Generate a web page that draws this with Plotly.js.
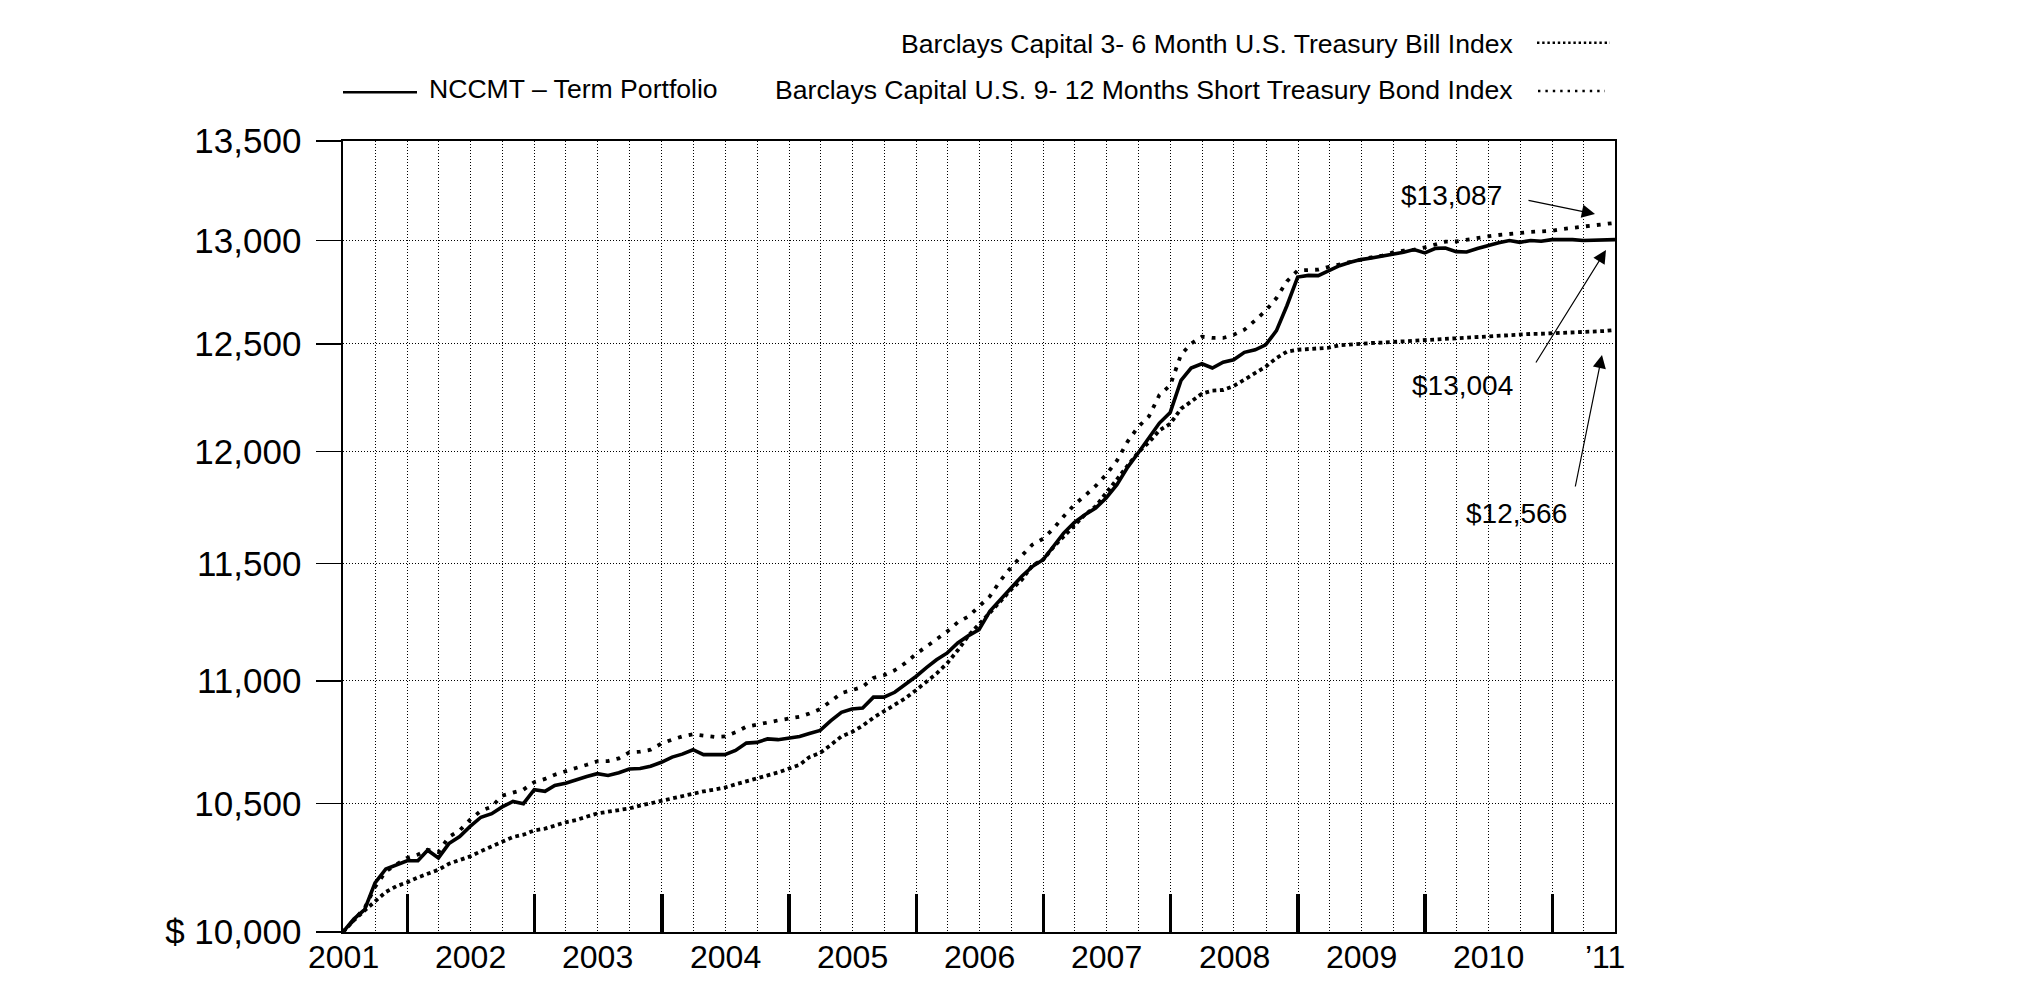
<!DOCTYPE html>
<html>
<head>
<meta charset="utf-8">
<script src="https://cdn.plot.ly/plotly-3.0.1.min.js"></script>
<style>
  html, body { margin: 0; padding: 0; background: #ffffff; }
  #chart { width: 2025px; height: 999px; }
</style>
</head>
<body>
<div id="chart"></div>
<script>
// ---- Data (month-end values, growth of $10,000, June 2001 - June 2011) ----
const firstMonthEnd = [2001, 6];      // year, month (June 2001)
const monthCount = 121;

const nccmtTerm = [
  10000, 10049, 10085, 10188, 10242, 10256, 10274, 10274, 10315, 10285,
  10341, 10369, 10409, 10445, 10459, 10486, 10508, 10499, 10555, 10548,
  10572, 10581, 10595, 10608, 10619, 10612, 10623, 10638, 10640, 10649,
  10665, 10686, 10698, 10716, 10696, 10696, 10696, 10713, 10743, 10746,
  10760, 10757, 10765, 10770, 10782, 10795, 10834, 10869, 10883, 10887,
  10932, 10932, 10952, 10984, 11018, 11056, 11088, 11117, 11159, 11190,
  11215, 11294, 11347, 11394, 11445, 11487, 11517, 11575, 11634, 11681,
  11715, 11745, 11790, 11850, 11929, 11993, 12061, 12130, 12179, 12328,
  12386, 12406, 12386, 12413, 12425, 12460, 12472, 12495, 12563, 12682,
  12821, 12829, 12828, 12853, 12876, 12893, 12906, 12914, 12924, 12930,
  12942, 12955, 12939, 12961, 12963, 12945, 12943, 12960, 12976, 12989,
  13000, 12991, 13000, 12996, 13004, 13005, 13004, 13000, 13000, 13002,
  13004
];

const bond9to12 = [
  10000, 10047, 10091, 10172, 10233, 10259, 10285, 10298, 10317, 10308,
  10367, 10393, 10435, 10471, 10487, 10531, 10545, 10555, 10585, 10598,
  10615, 10630, 10642, 10655, 10669, 10670, 10681, 10705, 10708, 10716,
  10741, 10757, 10770, 10779, 10772, 10768, 10770, 10787, 10810, 10817,
  10827, 10836, 10843, 10851, 10864, 10883, 10914, 10949, 10961, 10975,
  11012, 11023, 11044, 11074, 11112, 11145, 11179, 11208, 11247, 11272,
  11315, 11358, 11427, 11484, 11535, 11583, 11609, 11656, 11708, 11760,
  11800, 11844, 11895, 11958, 12046, 12112, 12161, 12260, 12305, 12449,
  12501, 12534, 12528, 12528, 12543, 12567, 12612, 12658, 12719, 12800,
  12853, 12853, 12857, 12871, 12882, 12897, 12907, 12917, 12926, 12941,
  12950, 12954, 12966, 12982, 12994, 12995, 13004, 13014, 13020, 13027,
  13033, 13038, 13042, 13045, 13048, 13057, 13062, 13068, 13074, 13080,
  13087
];

const tbill3to6 = [
  10000, 10044, 10082, 10117, 10153, 10175, 10190, 10209, 10225, 10239,
  10262, 10275, 10291, 10311, 10330, 10345, 10367, 10376, 10393, 10400,
  10412, 10425, 10434, 10446, 10460, 10467, 10474, 10480, 10491, 10501,
  10511, 10519, 10528, 10541, 10548, 10555, 10563, 10576, 10587, 10599,
  10612, 10624, 10639, 10655, 10686, 10703, 10735, 10770, 10788, 10814,
  10847, 10873, 10901, 10927, 10961, 10995, 11030, 11074, 11128, 11191,
  11237, 11288, 11337, 11387, 11430, 11492, 11517, 11575, 11620, 11671,
  11715, 11753, 11812, 11872, 11940, 11996, 12042, 12096, 12127, 12196,
  12229, 12266, 12280, 12283, 12301, 12331, 12359, 12392, 12433, 12463,
  12472, 12476, 12477, 12482, 12493, 12498, 12502, 12504, 12506, 12509,
  12512, 12517, 12520, 12523, 12526, 12528, 12531, 12534, 12536, 12539,
  12542, 12544, 12547, 12548, 12550, 12552, 12553, 12555, 12558, 12561,
  12566
];

// y-axis ticks
const yTickVals = [10000, 10500, 11000, 11500, 12000, 12500, 13000, 13500];
const yTickText = ['$ 10,000', '10,500', '11,000', '11,500', '12,000', '12,500', '13,000', '13,500'];

// x-axis year labels (placed at the middle of each calendar year)
const yearLabelDates = ['2001-07-01', '2002-07-02', '2003-07-02', '2004-07-02', '2005-07-02',
  '2006-07-02', '2007-07-02', '2008-07-02', '2009-07-02', '2010-07-02', '2011-06-01'];
const yearLabelText = ['2001', '2002', '2003', '2004', '2005', '2006', '2007', '2008', '2009', '2010', '\u201911'];

// ending-value call-outs
const endLabels = ['$13,087', '$13,004', '$12,566'];

// legend names
const nameNccmt = 'NCCMT \u2013 Term Portfolio';
const nameTbill = 'Barclays Capital 3- 6 Month U.S. Treasury Bill Index';
const nameBond = 'Barclays Capital U.S. 9- 12 Months Short Treasury Bond Index';

// ---- build month-end dates ----
function pad(n) { return (n < 10 ? '0' : '') + n; }
const dates = [];
for (let i = 0; i < monthCount; i++) {
  const d = new Date(Date.UTC(firstMonthEnd[0], firstMonthEnd[1] + i, 0));
  dates.push(d.getUTCFullYear() + '-' + pad(d.getUTCMonth() + 1) + '-' + pad(d.getUTCDate()));
}

const FONT = 'Liberation Sans, Arial, Helvetica, sans-serif';
const GRID = '#000000';
const GRIDDASH = '1px,2px';

const traces = [
  { x: dates, y: tbill3to6, name: nameTbill, type: 'scatter', mode: 'lines',
    line: { color: '#000', width: 3.8, dash: '3.8px,3.6px' }, xaxis: 'x', yaxis: 'y' },
  { x: dates, y: bond9to12, name: nameBond, type: 'scatter', mode: 'lines',
    line: { color: '#000', width: 3.8, dash: '3.8px,7.2px' }, xaxis: 'x', yaxis: 'y' },
  { x: dates, y: nccmtTerm, name: nameNccmt, type: 'scatter', mode: 'lines',
    line: { color: '#000', width: 3.6 }, xaxis: 'x', yaxis: 'y' }
];

const W = 2025, H = 999;
const M = { l: 343, r: 410, t: 141, b: 67 };
const PW = W - M.l - M.r, PH = H - M.t - M.b;
function px(xp) { return (xp - M.l) / PW; }
function py(yp) { return (H - M.b - yp) / PH; }

const annotations = [
  // legend texts
  { xref: 'paper', yref: 'paper', x: px(1516), y: py(43.7), xanchor: 'right', yanchor: 'middle',
    text: nameTbill, showarrow: false, font: { family: FONT, size: 26.6, color: '#000' } },
  { xref: 'paper', yref: 'paper', x: px(1515), y: py(90.3), xanchor: 'right', yanchor: 'middle',
    text: nameBond, showarrow: false, font: { family: FONT, size: 26.6, color: '#000' } },
  { xref: 'paper', yref: 'paper', x: px(427), y: py(89.2), xanchor: 'left', yanchor: 'middle',
    text: nameNccmt, showarrow: false, font: { family: FONT, size: 26.6, color: '#000' } },
  // ending values
  { xref: 'paper', yref: 'paper', x: px(1451), y: py(196), xanchor: 'center', yanchor: 'middle',
    text: endLabels[0], showarrow: false, font: { family: FONT, size: 28, color: '#000' } },
  { xref: 'paper', yref: 'paper', x: px(1462), y: py(385), xanchor: 'center', yanchor: 'middle',
    text: endLabels[1], showarrow: false, font: { family: FONT, size: 28, color: '#000' } },
  { xref: 'paper', yref: 'paper', x: px(1516), y: py(513), xanchor: 'center', yanchor: 'middle',
    text: endLabels[2], showarrow: false, font: { family: FONT, size: 28, color: '#000' } },
  // arrows
  { xref: 'paper', yref: 'paper', x: px(1595), y: py(214), ax: -68, ay: -14, text: '',
    showarrow: true, arrowhead: 2, arrowsize: 2.2, arrowwidth: 1.2, arrowcolor: '#000', standoff: 0 },
  { xref: 'paper', yref: 'paper', x: px(1606), y: py(250), ax: -71, ay: 114, text: '',
    showarrow: true, arrowhead: 2, arrowsize: 2.2, arrowwidth: 1.2, arrowcolor: '#000', standoff: 0 },
  { xref: 'paper', yref: 'paper', x: px(1602), y: py(355), ax: -27, ay: 133, text: '',
    showarrow: true, arrowhead: 2, arrowsize: 2.2, arrowwidth: 1.2, arrowcolor: '#000', standoff: 0 }
];

// x-axis year labels, positioned through the date axis
yearLabelDates.forEach(function (d, i) {
  annotations.push({ xref: 'x', yref: 'paper', x: d, y: py(956.7), xanchor: 'center', yanchor: 'middle',
    text: yearLabelText[i], showarrow: false, font: { family: FONT, size: 32, color: '#000' } });
});

const shapes = [
  { type: 'line', xref: 'paper', yref: 'paper', x0: px(343), x1: px(417), y0: py(92.3), y1: py(92.3),
    line: { color: '#000', width: 2.6 } },
  { type: 'line', xref: 'paper', yref: 'paper', x0: px(1537), x1: px(1610), y0: py(42.7), y1: py(42.7),
    line: { color: '#000', width: 2.4, dash: '2.4px,2.8px' } },
  { type: 'line', xref: 'paper', yref: 'paper', x0: px(1538), x1: px(1605), y0: py(91), y1: py(91),
    line: { color: '#000', width: 2.4, dash: '2.4px,5px' } }
];

const layout = {
  width: W, height: H,
  margin: { l: M.l, r: M.r, t: M.t, b: M.b, pad: 0 },
  paper_bgcolor: '#ffffff', plot_bgcolor: '#ffffff',
  showlegend: false,
  font: { family: FONT, color: '#000' },
  xaxis: {
    type: 'date', range: ['2001-06-30', '2011-06-30'],
    tickmode: 'linear', tick0: '2002-01-01', dtick: 'M12',
    ticks: 'inside', ticklen: 38, tickwidth: 3.6, tickcolor: '#000',
    showticklabels: false,
    showgrid: true, gridcolor: GRID, gridwidth: 1, griddash: GRIDDASH,
    minor: { tick0: '2001-07-01', dtick: 'M3', showgrid: true, gridcolor: GRID, gridwidth: 1, griddash: GRIDDASH, ticks: '' },
    showline: true, linecolor: '#000', linewidth: 1.6, mirror: true, zeroline: false
  },
  yaxis: {
    type: 'log', range: [Math.log10(10000), Math.log10(13500)],
    tickmode: 'array', tickvals: yTickVals, ticktext: yTickText,
    ticks: 'outside', ticklen: 25, tickwidth: 1.6, tickcolor: '#000',
    tickfont: { family: FONT, size: 35, color: '#000' }, ticklabelstandoff: 8,
    showgrid: true, gridcolor: GRID, gridwidth: 1, griddash: GRIDDASH,
    showline: true, linecolor: '#000', linewidth: 1.6, mirror: true, zeroline: false
  },
  annotations: annotations,
  shapes: shapes
};

Plotly.newPlot('chart', traces, layout, { staticPlot: true, displayModeBar: false });
</script>
</body>
</html>
